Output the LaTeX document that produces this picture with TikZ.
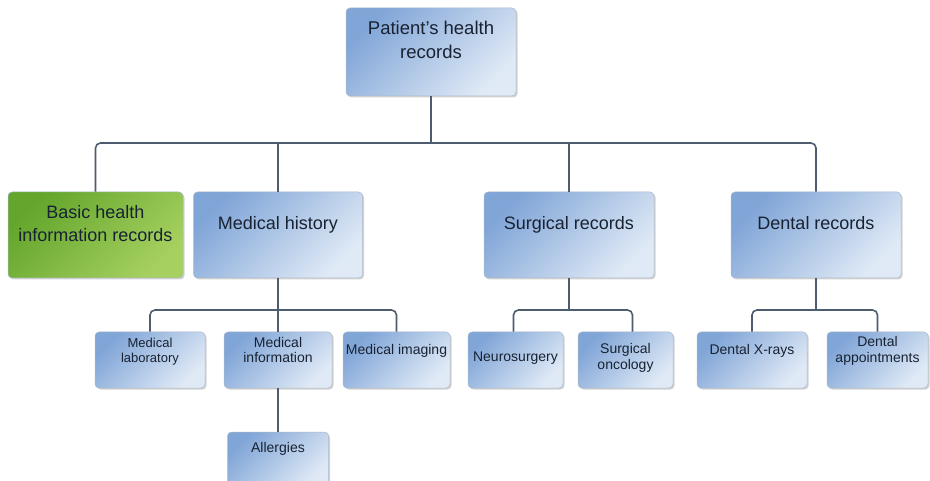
\documentclass[tikz,border=0pt]{standalone}
\usepackage{fontspec}
\setmainfont{Liberation Sans}
\usetikzlibrary{shadows}
\definecolor{bdark}{RGB}{128,165,215}
\definecolor{blight}{RGB}{224,234,246}
\definecolor{gdark}{RGB}{100,166,44}
\definecolor{glight}{RGB}{166,208,96}
\definecolor{boxline}{RGB}{170,185,202}
\definecolor{linec}{RGB}{78,92,112}
\definecolor{txt}{RGB}{24,34,50}
\newcommand\liftedtext[2]{\raisebox{#1}[0pt][0pt]{\begin{tabular}{@{}c@{}}#2\end{tabular}}}
\begin{document}
\begin{tikzpicture}[x=1pt,y=-1pt,
  box/.style={rectangle, rounded corners=4pt, draw=boxline, line width=0.5pt,
    top color=bdark, bottom color=blight, shading angle=45,
    drop shadow={shadow xshift=1.5pt, shadow yshift=-1.5pt, opacity=0.35},
    inner sep=0pt, text=txt},
  big/.style={box, minimum height=86pt, font=\fontsize{18}{23}\selectfont},
  green/.style={top color=gdark, bottom color=glight, shading angle=45},
  small/.style={box, minimum height=56pt, font=\fontsize{14}{15.5}\selectfont},
  conn/.style={draw=linec, line width=1.6pt, rounded corners=5pt}]
\fill[white] (0,0) rectangle (930,481);
\clip (0,0) rectangle (930,481);

\node[big, minimum width=170pt, minimum height=88pt, font=\fontsize{18.5}{24}\selectfont] (root) at (431,52) {\liftedtext{5.5pt}{Patient's health\\records}};

\node[big, green, minimum width=175pt] (basic) at (95.5,235) {\liftedtext{5.6pt}{Basic health\\information records}};
\node[big, minimum width=169pt] (mh) at (278,235) {\liftedtext{5.6pt}{Medical history}};
\node[big, minimum width=170pt] (surg) at (569,235) {\liftedtext{5.6pt}{Surgical records}};
\node[big, minimum width=170pt] (dent) at (816,235) {\liftedtext{5.6pt}{Dental records}};

\node[small, minimum width=110pt, font=\fontsize{13}{15}\selectfont] (lab) at (150,360) {\liftedtext{4.6pt}{Medical\\laboratory}};
\node[small, minimum width=108pt] (info) at (278,360) {\liftedtext{4.6pt}{Medical\\information}};
\node[small, minimum width=107pt] (img) at (396.5,360) {\liftedtext{4.6pt}{Medical imaging}};
\node[small, minimum width=95pt] (neuro) at (515.5,360) {\liftedtext{-2pt}{Neurosurgery}};
\node[small, minimum width=95pt] (onc) at (625.5,360) {\liftedtext{-2pt}{Surgical\\oncology}};
\node[small, minimum width=110pt] (xray) at (752,360) {\liftedtext{5pt}{Dental X-rays}};
\node[small, minimum width=101pt] (appt) at (877.5,360) {\liftedtext{5pt}{Dental\\appointments}};
\node[small, minimum width=101pt] (allerg) at (278,460) {\liftedtext{7pt}{Allergies}};

\coordinate (j0) at (431,143);
\draw[conn] (basic.north) |- (j0) -| (dent.north);
\draw[conn] (root.south) -- (j0);
\draw[conn] (mh.north) -- (mh.north |- j0);
\draw[conn] (surg.north) -- (surg.north |- j0);

\coordinate (j1) at (278,310);
\draw[conn] (lab.north) |- (j1) -| (img.north);
\draw[conn] (mh.south) -- (j1);
\draw[conn] (info.north) -- (info.north |- j1);
\draw[conn] (info.south) -- (allerg.north);

\coordinate (j2) at (569,310);
\draw[conn] ([xshift=-2pt]neuro.north) |- (j2) -| ([xshift=7pt]onc.north);
\draw[conn] (surg.south) -- (j2);

\coordinate (j3) at (816,310);
\draw[conn] (xray.north) |- (j3) -| (appt.north);
\draw[conn] (dent.south) -- (j3);
\end{tikzpicture}
\end{document}
